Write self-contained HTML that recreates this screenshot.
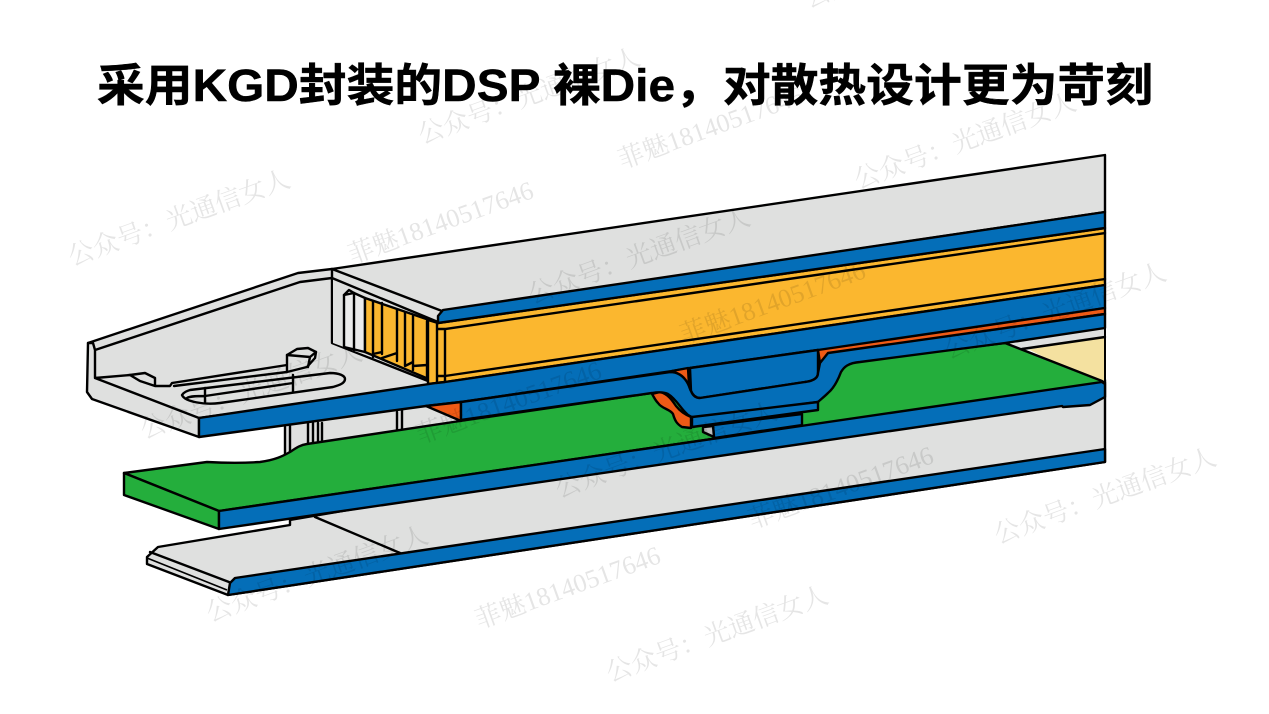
<!DOCTYPE html>
<html lang="zh"><head><meta charset="utf-8"><title>KGD</title>
<style>
html,body{margin:0;padding:0;background:#fff;width:1269px;height:714px;overflow:hidden}
svg{display:block}
.s{stroke:#000;stroke-width:2.4;stroke-linejoin:round;stroke-linecap:round}
.n{fill:none}
.g{fill:#dfe0df}.b{fill:#046eb8}.y{fill:#fbb72f}.o{fill:#ee5a16}.gr{fill:#24ae3c}
.w text{font-family:"Liberation Serif","Noto Serif CJK SC",serif;font-size:26px;fill:#000;fill-opacity:.1}
</style></head><body>
<svg width="1269" height="714" viewBox="0 0 1269 714" xmlns="http://www.w3.org/2000/svg">
<rect width="1269" height="714" fill="#fff"/>
<text x="97" y="101" textLength="1056" lengthAdjust="spacingAndGlyphs" font-family="'Liberation Sans','Noto Sans CJK SC',sans-serif" font-weight="700" font-size="45" fill="#000" stroke="#000" stroke-width=".5">采用KGD封装的DSP 裸Die，对散热设计更为苛刻</text>

<!-- lower plate -->
<path class="s g" d="M158 547L290 525L290 520L1105 380L1105 462L228 595L147 564L147 557Z"/>
<path class="s n" d="M150 552L229 582"/>
<path d="M147 558L227 590" fill="none" stroke="#000" stroke-width="1.6"/>
<path class="s n" d="M315 517L400 553"/>
<path class="s b" d="M235 578L1105 449L1105 462L228 595L230 583Z"/>

<!-- rear wall between plates -->
<path class="g" d="M286 425L470 395L470 425L286 458Z"/>
<path class="s n" d="M285 427L285 455M290 426L290 452M308 423L308 444M313 423L313 443M318 423L318 442M322 423L322 441M397 412L397 431M402 410L402 430"/>

<!-- cream and grey right-end -->
<path fill="#f4e1a0" d="M1020 345L1105 331L1105 385L1095 383Z"/>
<path class="g" d="M1005 343L1105 328L1105 337L1020 351Z"/>
<path class="s n" d="M1022 349L1105 337"/>

<!-- green board -->
<path class="s gr" d="M124 473L207 462C225 463 245 463 260 462C275 460 283 456 290 452C296 448 300 445 307 444L460 421L652 393L700 380L1005 343L1102 381L1105 383L719 438L219 511Z"/>
<path class="s gr" d="M124 473L219 511L219 529L124 495Z"/>

<!-- green board blue edge -->
<path class="s b" d="M219 511L1102 382L1105 384L1105 397L1090 405L1063 407L1062 406L219 529Z"/>

<!-- upper grey lid and flange -->
<path class="s g" d="M332 269L298 273L88 343L87 392L92 399L199 437L199 418L480 380L480 340L438 320L332 269Z"/>
<path class="s n" d="M93 343L95 350L300 282L332 278M88 343L93 343M95 350L95 378L199 418M95 378L130 375M332 278L332 343L433 383"/>

<!-- slot and tabs -->
<path class="s n" d="M130 375L145 373L155 378L155 386L140 381ZM155 386L170 386L172 383L287 365M174 386L287 372"/>
<path class="s g" d="M287 355L297 349L308 348L316 352L315 358L307 367L287 372Z"/>
<path class="s n" d="M287 355L310 357L316 352M310 357L308 367"/>
<path class="s g" d="M182 395C184 392 187 391 190 390L330 373C340 373 345 376 345 379C345 383 340 385 333 387L220 403C205 405 185 402 182 395Z"/>
<path class="s n" d="M187 398C190 396 198 396 205 396L293 383M205 388L205 402M293 375L293 392"/>

<!-- cavity wall and pillars -->
<path class="g" d="M333 279L438 323L438 382L333 343Z"/>
<path class="s" fill="#ebebeb" d="M344 347L344 295L349 290L354 293L365 298L365 352Z"/>
<path class="s n" d="M354 293L354 350M344 295L354 293"/>
<path class="s y" d="M365 298L438 323L438 383L365 352Z"/>
<path class="s n" d="M373 301L373 357M382 303L382 354M397 310L397 361M405 313L405 366M413 316L413 370M427 321L427 380M437 325L437 382M373 354L382 352M382 358L397 353M405 366L413 362M413 366L427 365"/>

<!-- grey lid top -->
<path class="s g" d="M332 269L1105 155L1105 212L442 311L438 322L332 278Z"/>
<path class="s n" d="M332 269L442 311"/>

<!-- yellow stack -->
<path class="s y" d="M428 320L438 323L1105 228L1105 285L445 382L428 384Z"/>
<path class="s n" d="M445 329L1105 233M445 376L1105 279M445 329L445 382M437 323L437 382M437 329L445 329M437 376L445 376"/>

<!-- top blue lid strip -->
<path class="s b" d="M438 323L438 316L443 310L1105 212L1105 228Z"/>

<!-- lid front strip -->
<path class="s b" d="M199 418L436 383L445 382L1105 285L1105 308L828 353L818 350L690 368L672 371L461 402L426 406L199 437Z"/>

<!-- die block -->
<path class="s b" d="M690 368L818 350L818 373C818 378 813 381 805 382L700 398C696 398 693 396 691 391Z"/>

<!-- orange wedges -->
<path class="s o" d="M426 406L461 402L461 421Z"/>
<path class="s o" d="M818 350L1105 308L1105 314L828 354L820 363Z"/>
<path class="s o" d="M672 371L688 368L689 385C684 378 680 374 672 371Z"/>
<path class="s o" d="M652 394L660 392C668 394 672 400 676 406C680 411 686 415 691 417L691 428L682 427C677 424 675 421 673 414C670 409 662 409 658 403C655 400 654 397 652 394Z"/>

<!-- blue flex -->
<path class="s b" d="M461 402L670 372C680 372 685 378 688 384C690 388 690 390 691 391C693 396 696 398 700 398L805 382C813 381 818 378 818 373L820 363L828 353L1105 314L1105 328L1005 343L860 362C848 363 844 367 841 372C838 380 834 388 828 393C824 397 820 400 818 402L703 418C695 419 689 417 685 412C680 407 675 398 668 394C664 392 658 392 652 393L461 420Z"/>
<path class="s b" d="M692 417L818 402L818 410L692 427Z"/>
<path class="s b" d="M713 425L802 414L802 425L714 438Z"/>
<path class="s" fill="#bfc0bf" d="M703 427L713 426L714 437L703 432Z"/>
<path fill="none" stroke="#000" stroke-width="2" d="M1105 155L1105 462"/>

<!-- watermarks -->
<g class="w">
<text transform="translate(72 266) rotate(-20)">公众号：光通信女人</text>
<text transform="translate(422 144) rotate(-20)">公众号：光通信女人</text>
<text transform="translate(858 189) rotate(-20)">公众号：光通信女人</text>
<text transform="translate(532 304) rotate(-20)">公众号：光通信女人</text>
<text transform="translate(948 359) rotate(-20)">公众号：光通信女人</text>
<text transform="translate(144 439) rotate(-20)">公众号：光通信女人</text>
<text transform="translate(559 498) rotate(-20)">公众号：光通信女人</text>
<text transform="translate(998 544) rotate(-20)">公众号：光通信女人</text>
<text transform="translate(210 622) rotate(-20)">公众号：光通信女人</text>
<text transform="translate(610 682) rotate(-20)">公众号：光通信女人</text>
<text transform="translate(808 8) rotate(-20)">公众号：光通信女人</text>
<text transform="translate(352 264) rotate(-20)">菲魅18140517646</text>
<text transform="translate(622 169) rotate(-20)">菲魅18140517646</text>
<text transform="translate(684 344) rotate(-20)">菲魅18140517646</text>
<text transform="translate(420 444) rotate(-20)">菲魅18140517646</text>
<text transform="translate(752 529) rotate(-20)">菲魅18140517646</text>
<text transform="translate(479 629) rotate(-20)">菲魅18140517646</text>
</g>
</svg>
</body></html>
